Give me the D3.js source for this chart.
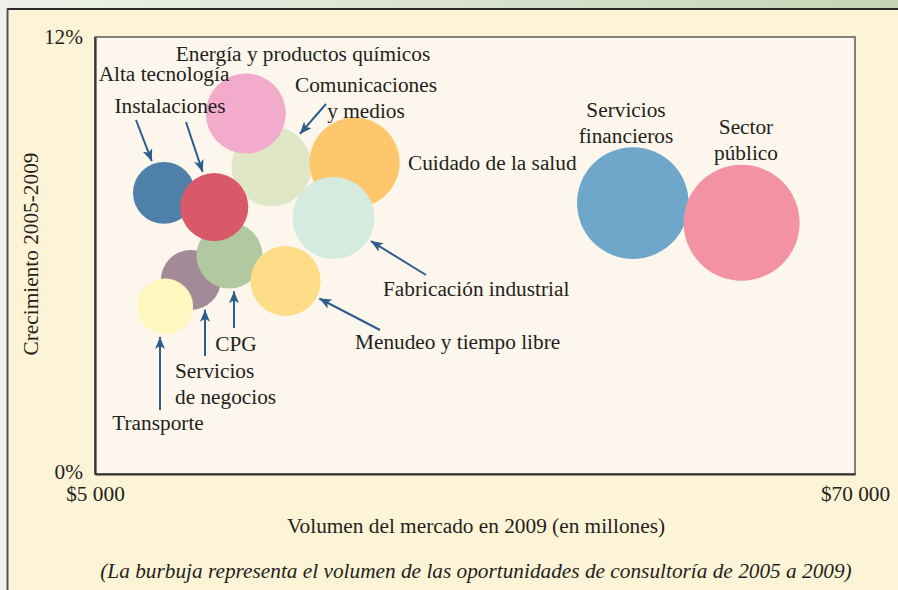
<!DOCTYPE html>
<html><head><meta charset="utf-8">
<script src="https://cdn.jsdelivr.net/npm/d3@7"></script>
<style>
html,body{margin:0;padding:0;background:#fdf3d6;}
svg{display:block;font-family:"Liberation Serif","Times New Roman",serif;}
</style></head>
<body>
<svg id="chart" width="898" height="590"></svg>
<script>
// ---- data ----
const sectors = ["Comunicaciones y medios","Energía y productos químicos","Cuidado de la salud","Fabricación industrial","Alta tecnología","Servicios de negocios","CPG","Instalaciones","Transporte","Menudeo y tiempo libre","Servicios financieros","Sector público"];
const marketVolume = [20100, 17900, 27200, 25400, 10900, 13200, 16500, 15200, 11000, 21300, 51000, 60300]; // millones
const growth = [8.45, 9.9, 8.55, 7.03, 7.72, 5.33, 6.0, 7.33, 4.6, 5.3, 7.44, 6.9]; // %
const consulting = [1620, 1620, 2050, 1700, 970, 910, 1100, 1170, 790, 1240, 3150, 3400]; // tamaño burbuja
const bubbleColors = ["#e0e7c7","#f3abcc","#fec76b","#d5ebdf","#4f80a9","#a38a98","#b1c8a0","#d95969","#fff7c0","#fedd89","#6fa7ca","#f492a5"];
const xTicks = [5000, 70000];
const yTicks = [0, 12];

// ---- layout ----
const FS = 21.3;
const svg = d3.select("#chart");
const W = 898, H = 590;
const plot = {left: 95, right: 855, top: 37, bottom: 474};
const x = d3.scaleLinear().domain([5000, 70000]).range([plot.left, plot.right]);
const y = d3.scaleLinear().domain([0, 12]).range([plot.bottom, plot.top]);
const r = d3.scaleSqrt().domain([0, 3400]).range([0, 58]);

// outer frame
const defs = svg.append("defs");
const g1 = defs.append("linearGradient").attr("id","band").attr("x1","0").attr("x2","1");
g1.append("stop").attr("offset","0").attr("stop-color","#eef1ea");
g1.append("stop").attr("offset","0.5").attr("stop-color","#d9e3cf");
g1.append("stop").attr("offset","1").attr("stop-color","#c4d6b6");
svg.append("rect").attr("x",0).attr("y",0).attr("width",W).attr("height",H).attr("fill","#fdf3d6");
svg.append("rect").attr("x",0).attr("y",0).attr("width",W).attr("height",9).attr("fill","url(#band)");
svg.append("rect").attr("x",0).attr("y",9).attr("width",7).attr("height",H).attr("fill","#f1f2ee");
svg.append("line").attr("x1",7).attr("x2",W).attr("y1",9).attr("y2",9).attr("stroke","#2a2a2a").attr("stroke-width",2);
svg.append("line").attr("x1",7.5).attr("x2",7.5).attr("y1",9).attr("y2",H).attr("stroke","#555").attr("stroke-width",2);

// plot area
svg.append("rect").attr("x",plot.left).attr("y",plot.top)
  .attr("width",plot.right-plot.left).attr("height",plot.bottom-plot.top)
  .attr("fill","#fdf6ec").attr("stroke","#5a5a5a").attr("stroke-width",1.5);

// bubbles
const data = sectors.map((s,i)=>({name:s, vx:marketVolume[i], vy:growth[i], v:consulting[i], c:bubbleColors[i]}));
svg.append("g").selectAll("circle").data(data).join("circle")
  .attr("cx",d=>x(d.vx)).attr("cy",d=>y(d.vy)).attr("r",d=>r(d.v)).attr("fill",d=>d.c);

// axes
const fmtX = d => "$" + d3.format(",")(d).replace(/,/g," ");
const xAxis = svg.append("g").attr("transform",`translate(0,${plot.bottom})`)
  .call(d3.axisBottom(x).tickValues(xTicks).tickSize(0).tickPadding(12).tickFormat(fmtX));
const yAxis = svg.append("g").attr("transform",`translate(${plot.left},0)`)
  .call(d3.axisLeft(y).tickValues(yTicks).tickSize(0).tickPadding(12).tickFormat(d=>d+"%"));
[xAxis,yAxis].forEach(a=>{
  a.select(".domain").attr("stroke","#333").attr("stroke-width",2.2);
  a.selectAll("text").attr("font-family","Liberation Serif, serif").attr("font-size",FS).attr("fill","#231f20");
});
yAxis.selectAll(".tick").filter(d=>d===0).select("text").attr("dy","0.2em");

// titles
svg.append("text").attr("x",476).attr("y",533).attr("text-anchor","middle")
  .attr("font-size",FS).attr("fill","#231f20").text("Volumen del mercado en 2009 (en millones)");
svg.append("text").attr("transform","translate(38,254) rotate(-90)").attr("text-anchor","middle")
  .attr("font-size",FS).attr("fill","#231f20").text("Crecimiento 2005-2009");
svg.append("text").attr("x",476).attr("y",578).attr("text-anchor","middle")
  .attr("font-size",FS).attr("font-style","italic").attr("fill","#231f20")
  .text("(La burbuja representa el volumen de las oportunidades de consultoría de 2005 a 2009)");

// labels (pixel layout)
const labels = [
  {lines:["Energía y productos químicos"], x:303, y:61, a:"middle"},
  {lines:["Alta tecnología"], x:164, y:81, a:"middle"},
  {lines:["Instalaciones"], x:170, y:113, a:"middle"},
  {lines:["Comunicaciones","y medios"], x:366, y:92, a:"middle"},
  {lines:["Cuidado de la salud"], x:408, y:170, a:"start"},
  {lines:["Servicios","financieros"], x:626, y:117, a:"middle"},
  {lines:["Sector","público"], x:746, y:134, a:"middle"},
  {lines:["Fabricación industrial"], x:383, y:296, a:"start"},
  {lines:["Menudeo y tiempo libre"], x:355, y:349, a:"start"},
  {lines:["CPG"], x:236, y:351, a:"middle"},
  {lines:["Servicios","de negocios"], x:175, y:378, a:"start"},
  {lines:["Transporte"], x:158, y:430, a:"middle"}
];
const lg = svg.append("g").attr("font-size",FS).attr("fill","#231f20");
labels.forEach(l=>{
  const t = lg.append("text").attr("x",l.x).attr("y",l.y).attr("text-anchor",l.a);
  l.lines.forEach((s,i)=>t.append("tspan").attr("x",l.x).attr("dy",i?26:0).text(s));
});

// arrows
defs.append("marker").attr("id","ah").attr("viewBox","0 0 12 10").attr("refX",12).attr("refY",5)
  .attr("markerWidth",12).attr("markerHeight",10).attr("markerUnits","userSpaceOnUse").attr("orient","auto")
  .append("path").attr("d","M0,0 L12,5 L0,10 L3,5 Z").attr("fill","#2b5e8c");
const arrows = [
  {name:"Alta tecnología", sx:136, sy:120},
  {name:"Instalaciones", sx:186, sy:122},
  {name:"Comunicaciones y medios", sx:326, sy:104},
  {name:"Fabricación industrial", sx:426, sy:275},
  {name:"Menudeo y tiempo libre", sx:380, sy:330},
  {name:"CPG", sx:234, sy:328, vertical:true},
  {name:"Servicios de negocios", sx:205, sy:356, vertical:true},
  {name:"Transporte", sx:160, sy:410, vertical:true}
];
const ag = svg.append("g");
arrows.forEach(a=>{
  const d = data.find(e=>e.name===a.name);
  const cx = x(d.vx), cy = y(d.vy), R = r(d.v)+3;
  let dx, dy;
  if (a.vertical) { dx = 0; dy = -1; } else { dx = cx-a.sx; dy = cy-a.sy; const n=Math.hypot(dx,dy); dx/=n; dy/=n; }
  const fx = a.sx-cx, fy = a.sy-cy;
  const b = fx*dx+fy*dy, c = fx*fx+fy*fy-R*R;
  const t = -b - Math.sqrt(Math.max(0,b*b-c));
  ag.append("line").attr("x1",a.sx).attr("y1",a.sy).attr("x2",a.sx+dx*t).attr("y2",a.sy+dy*t)
    .attr("stroke","#2b5e8c").attr("stroke-width",2).attr("marker-end","url(#ah)");
});
</script>
</body></html>
